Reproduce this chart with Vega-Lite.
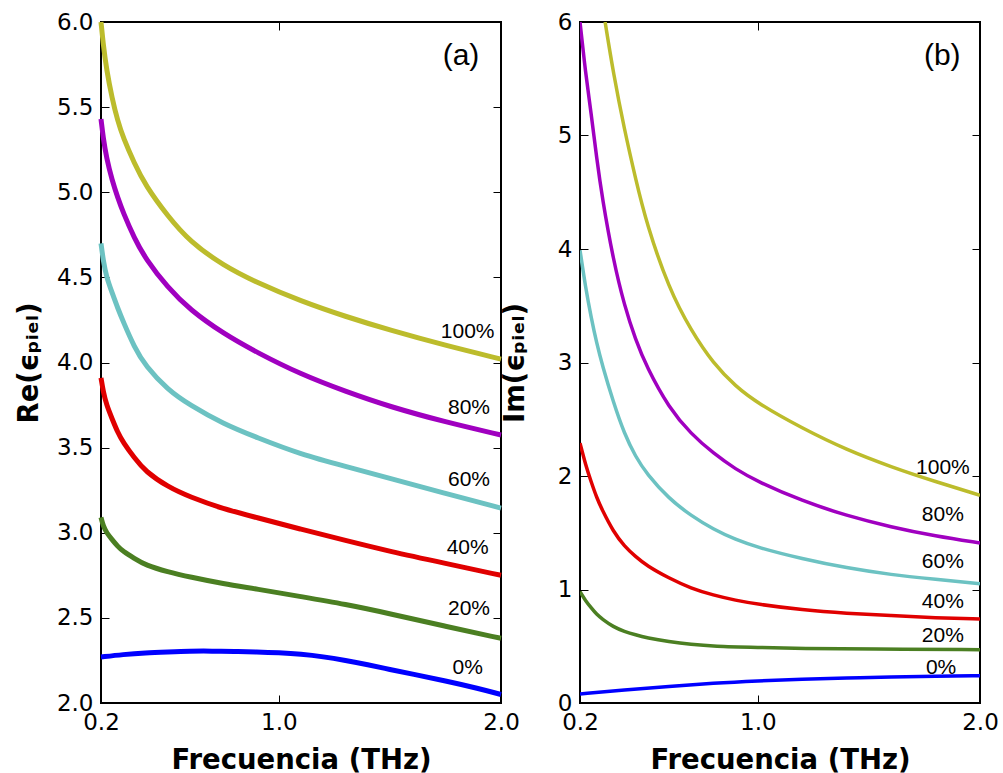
{
  "$schema": "https://vega.github.io/schema/vega-lite/v6.json",
  "padding": {"left": 14, "top": 10, "right": 5, "bottom": 5},
  "background": "white",
  "config": {
    "view": {"stroke": "#000", "strokeWidth": 2},
    "axis": {"grid": false, "domain": false, "tickColor": "#000", "tickSize": -8, "tickWidth": 1, "labelFont": "DejaVu Sans", "labelFontSize": 23, "labelColor": "#000", "labelPadding": 16, "labelFlush": false, "labelOverlap": false, "titleFont": "DejaVu Sans", "titleFontSize": 27.5, "titleFontWeight": "bold", "titleColor": "#000"},
    "text": {"font": "Liberation Sans", "fontSize": 21, "color": "#000"}
  },
  "datasets": {
    "re": [
      {"s": "100%", "f": 0.2, "v": 6.0}, {"s": "100%", "f": 0.21, "v": 5.87}, {"s": "100%", "f": 0.225, "v": 5.72}, {"s": "100%", "f": 0.25, "v": 5.55}, {"s": "100%", "f": 0.275, "v": 5.42}, {"s": "100%", "f": 0.3, "v": 5.32}, {"s": "100%", "f": 0.35, "v": 5.17}, {"s": "100%", "f": 0.4, "v": 5.04}, {"s": "100%", "f": 0.5, "v": 4.86}, {"s": "100%", "f": 0.6, "v": 4.71}, {"s": "100%", "f": 0.75, "v": 4.57}, {"s": "100%", "f": 0.9, "v": 4.47}, {"s": "100%", "f": 1.1, "v": 4.36}, {"s": "100%", "f": 1.3, "v": 4.27}, {"s": "100%", "f": 1.5, "v": 4.19}, {"s": "100%", "f": 1.75, "v": 4.10}, {"s": "100%", "f": 2.0, "v": 4.02},
      {"s": "80%", "f": 0.2, "v": 5.43}, {"s": "80%", "f": 0.21, "v": 5.32}, {"s": "80%", "f": 0.225, "v": 5.2}, {"s": "80%", "f": 0.25, "v": 5.07}, {"s": "80%", "f": 0.275, "v": 4.97}, {"s": "80%", "f": 0.3, "v": 4.88}, {"s": "80%", "f": 0.35, "v": 4.73}, {"s": "80%", "f": 0.4, "v": 4.61}, {"s": "80%", "f": 0.5, "v": 4.44}, {"s": "80%", "f": 0.6, "v": 4.31}, {"s": "80%", "f": 0.75, "v": 4.17}, {"s": "80%", "f": 0.9, "v": 4.06}, {"s": "80%", "f": 1.1, "v": 3.93}, {"s": "80%", "f": 1.3, "v": 3.83}, {"s": "80%", "f": 1.5, "v": 3.74}, {"s": "80%", "f": 1.75, "v": 3.65}, {"s": "80%", "f": 2.0, "v": 3.574},
      {"s": "60%", "f": 0.2, "v": 4.70}, {"s": "60%", "f": 0.21, "v": 4.60}, {"s": "60%", "f": 0.225, "v": 4.50}, {"s": "60%", "f": 0.25, "v": 4.41}, {"s": "60%", "f": 0.275, "v": 4.32}, {"s": "60%", "f": 0.3, "v": 4.24}, {"s": "60%", "f": 0.35, "v": 4.09}, {"s": "60%", "f": 0.4, "v": 3.98}, {"s": "60%", "f": 0.5, "v": 3.84}, {"s": "60%", "f": 0.6, "v": 3.75}, {"s": "60%", "f": 0.75, "v": 3.64}, {"s": "60%", "f": 0.9, "v": 3.56}, {"s": "60%", "f": 1.1, "v": 3.46}, {"s": "60%", "f": 1.3, "v": 3.39}, {"s": "60%", "f": 1.5, "v": 3.32}, {"s": "60%", "f": 1.75, "v": 3.23}, {"s": "60%", "f": 2.0, "v": 3.145},
      {"s": "40%", "f": 0.2, "v": 3.91}, {"s": "40%", "f": 0.21, "v": 3.83}, {"s": "40%", "f": 0.225, "v": 3.75}, {"s": "40%", "f": 0.25, "v": 3.67}, {"s": "40%", "f": 0.275, "v": 3.59}, {"s": "40%", "f": 0.3, "v": 3.53}, {"s": "40%", "f": 0.35, "v": 3.44}, {"s": "40%", "f": 0.4, "v": 3.36}, {"s": "40%", "f": 0.5, "v": 3.27}, {"s": "40%", "f": 0.6, "v": 3.21}, {"s": "40%", "f": 0.75, "v": 3.14}, {"s": "40%", "f": 0.9, "v": 3.09}, {"s": "40%", "f": 1.1, "v": 3.02}, {"s": "40%", "f": 1.3, "v": 2.955}, {"s": "40%", "f": 1.5, "v": 2.89}, {"s": "40%", "f": 1.75, "v": 2.82}, {"s": "40%", "f": 2.0, "v": 2.75},
      {"s": "20%", "f": 0.2, "v": 3.09}, {"s": "20%", "f": 0.21, "v": 3.04}, {"s": "20%", "f": 0.225, "v": 3.0}, {"s": "20%", "f": 0.25, "v": 2.96}, {"s": "20%", "f": 0.275, "v": 2.92}, {"s": "20%", "f": 0.3, "v": 2.89}, {"s": "20%", "f": 0.35, "v": 2.85}, {"s": "20%", "f": 0.4, "v": 2.81}, {"s": "20%", "f": 0.5, "v": 2.77}, {"s": "20%", "f": 0.6, "v": 2.74}, {"s": "20%", "f": 0.75, "v": 2.70}, {"s": "20%", "f": 0.9, "v": 2.67}, {"s": "20%", "f": 1.1, "v": 2.625}, {"s": "20%", "f": 1.3, "v": 2.58}, {"s": "20%", "f": 1.5, "v": 2.525}, {"s": "20%", "f": 1.75, "v": 2.45}, {"s": "20%", "f": 2.0, "v": 2.38},
      {"s": "0%", "f": 0.2, "v": 2.27}, {"s": "0%", "f": 0.3, "v": 2.285}, {"s": "0%", "f": 0.4, "v": 2.295}, {"s": "0%", "f": 0.5, "v": 2.30}, {"s": "0%", "f": 0.6, "v": 2.305}, {"s": "0%", "f": 0.7, "v": 2.305}, {"s": "0%", "f": 0.8, "v": 2.303}, {"s": "0%", "f": 0.9, "v": 2.30}, {"s": "0%", "f": 1.0, "v": 2.295}, {"s": "0%", "f": 1.1, "v": 2.287}, {"s": "0%", "f": 1.2, "v": 2.272}, {"s": "0%", "f": 1.3, "v": 2.25}, {"s": "0%", "f": 1.4, "v": 2.225}, {"s": "0%", "f": 1.5, "v": 2.197}, {"s": "0%", "f": 1.6, "v": 2.17}, {"s": "0%", "f": 1.75, "v": 2.13}, {"s": "0%", "f": 1.9, "v": 2.085}, {"s": "0%", "f": 2.0, "v": 2.05}
    ],
    "im": [
      {"s": "100%", "f": 0.313, "v": 6.0}, {"s": "100%", "f": 0.35, "v": 5.55}, {"s": "100%", "f": 0.4, "v": 5.05}, {"s": "100%", "f": 0.45, "v": 4.62}, {"s": "100%", "f": 0.5, "v": 4.22}, {"s": "100%", "f": 0.6, "v": 3.65}, {"s": "100%", "f": 0.7, "v": 3.28}, {"s": "100%", "f": 0.8, "v": 2.99}, {"s": "100%", "f": 0.9, "v": 2.79}, {"s": "100%", "f": 1.0, "v": 2.64}, {"s": "100%", "f": 1.2, "v": 2.42}, {"s": "100%", "f": 1.4, "v": 2.23}, {"s": "100%", "f": 1.6, "v": 2.08}, {"s": "100%", "f": 1.8, "v": 1.95}, {"s": "100%", "f": 2.0, "v": 1.83},
      {"s": "80%", "f": 0.2, "v": 6.0}, {"s": "80%", "f": 0.225, "v": 5.55}, {"s": "80%", "f": 0.25, "v": 5.2}, {"s": "80%", "f": 0.275, "v": 4.8}, {"s": "80%", "f": 0.3, "v": 4.45}, {"s": "80%", "f": 0.35, "v": 3.9}, {"s": "80%", "f": 0.4, "v": 3.5}, {"s": "80%", "f": 0.45, "v": 3.2}, {"s": "80%", "f": 0.5, "v": 2.96}, {"s": "80%", "f": 0.6, "v": 2.6}, {"s": "80%", "f": 0.7, "v": 2.37}, {"s": "80%", "f": 0.8, "v": 2.2}, {"s": "80%", "f": 0.9, "v": 2.06}, {"s": "80%", "f": 1.0, "v": 1.95}, {"s": "80%", "f": 1.2, "v": 1.78}, {"s": "80%", "f": 1.4, "v": 1.65}, {"s": "80%", "f": 1.6, "v": 1.55}, {"s": "80%", "f": 1.8, "v": 1.47}, {"s": "80%", "f": 2.0, "v": 1.41},
      {"s": "60%", "f": 0.2, "v": 3.99}, {"s": "60%", "f": 0.225, "v": 3.66}, {"s": "60%", "f": 0.25, "v": 3.40}, {"s": "60%", "f": 0.275, "v": 3.17}, {"s": "60%", "f": 0.3, "v": 2.98}, {"s": "60%", "f": 0.35, "v": 2.65}, {"s": "60%", "f": 0.4, "v": 2.37}, {"s": "60%", "f": 0.45, "v": 2.17}, {"s": "60%", "f": 0.5, "v": 2.02}, {"s": "60%", "f": 0.6, "v": 1.80}, {"s": "60%", "f": 0.7, "v": 1.65}, {"s": "60%", "f": 0.8, "v": 1.53}, {"s": "60%", "f": 0.9, "v": 1.44}, {"s": "60%", "f": 1.0, "v": 1.37}, {"s": "60%", "f": 1.2, "v": 1.27}, {"s": "60%", "f": 1.4, "v": 1.19}, {"s": "60%", "f": 1.6, "v": 1.13}, {"s": "60%", "f": 1.8, "v": 1.09}, {"s": "60%", "f": 2.0, "v": 1.05},
      {"s": "40%", "f": 0.2, "v": 2.29}, {"s": "40%", "f": 0.225, "v": 2.10}, {"s": "40%", "f": 0.25, "v": 1.95}, {"s": "40%", "f": 0.275, "v": 1.81}, {"s": "40%", "f": 0.3, "v": 1.70}, {"s": "40%", "f": 0.35, "v": 1.51}, {"s": "40%", "f": 0.4, "v": 1.38}, {"s": "40%", "f": 0.45, "v": 1.29}, {"s": "40%", "f": 0.5, "v": 1.21}, {"s": "40%", "f": 0.6, "v": 1.10}, {"s": "40%", "f": 0.7, "v": 1.01}, {"s": "40%", "f": 0.8, "v": 0.95}, {"s": "40%", "f": 0.9, "v": 0.905}, {"s": "40%", "f": 1.0, "v": 0.87}, {"s": "40%", "f": 1.2, "v": 0.82}, {"s": "40%", "f": 1.4, "v": 0.79}, {"s": "40%", "f": 1.6, "v": 0.77}, {"s": "40%", "f": 1.8, "v": 0.75}, {"s": "40%", "f": 2.0, "v": 0.74},
      {"s": "20%", "f": 0.2, "v": 0.98}, {"s": "20%", "f": 0.225, "v": 0.90}, {"s": "20%", "f": 0.25, "v": 0.84}, {"s": "20%", "f": 0.275, "v": 0.78}, {"s": "20%", "f": 0.3, "v": 0.74}, {"s": "20%", "f": 0.35, "v": 0.67}, {"s": "20%", "f": 0.4, "v": 0.63}, {"s": "20%", "f": 0.45, "v": 0.60}, {"s": "20%", "f": 0.5, "v": 0.575}, {"s": "20%", "f": 0.6, "v": 0.54}, {"s": "20%", "f": 0.7, "v": 0.515}, {"s": "20%", "f": 0.8, "v": 0.50}, {"s": "20%", "f": 1.0, "v": 0.49}, {"s": "20%", "f": 1.2, "v": 0.48}, {"s": "20%", "f": 1.5, "v": 0.475}, {"s": "20%", "f": 2.0, "v": 0.47},
      {"s": "0%", "f": 0.2, "v": 0.08}, {"s": "0%", "f": 0.4, "v": 0.115}, {"s": "0%", "f": 0.6, "v": 0.145}, {"s": "0%", "f": 0.8, "v": 0.175}, {"s": "0%", "f": 1.0, "v": 0.195}, {"s": "0%", "f": 1.2, "v": 0.21}, {"s": "0%", "f": 1.4, "v": 0.22}, {"s": "0%", "f": 1.6, "v": 0.23}, {"s": "0%", "f": 1.8, "v": 0.235}, {"s": "0%", "f": 2.0, "v": 0.24}
    ],
    "reLabels": [
      {"s": "100%", "f": 1.85, "v": 4.18}, {"s": "80%", "f": 1.856, "v": 3.73}, {"s": "60%", "f": 1.856, "v": 3.31}, {"s": "40%", "f": 1.85, "v": 2.91}, {"s": "20%", "f": 1.856, "v": 2.55}, {"s": "0%", "f": 1.85, "v": 2.205}
    ],
    "imLabels": [
      {"s": "100%", "f": 1.833, "v": 2.07}, {"s": "80%", "f": 1.833, "v": 1.66}, {"s": "60%", "f": 1.833, "v": 1.24}, {"s": "40%", "f": 1.833, "v": 0.89}, {"s": "20%", "f": 1.833, "v": 0.59}, {"s": "0%", "f": 1.825, "v": 0.31}
    ],
    "reLetter": [{"t": "(a)", "f": 1.82, "v": 5.80}],
    "imLetter": [{"t": "(b)", "f": 1.83, "v": 5.70}]
  },
  "spacing": -21,
  "hconcat": [
    {
      "width": 400,
      "height": 681,
      "layer": [
        {
          "data": {"name": "re"},
          "mark": {"type": "line", "strokeWidth": 5, "interpolate": "basis"},
          "encoding": {
            "x": {"field": "f", "type": "quantitative", "scale": {"domain": [0.2, 2.0], "nice": false, "zero": false}, "axis": {"values": [0.2, 1.0, 2.0], "format": ".1f", "title": "Frecuencia (THz)", "titlePadding": 12}},
            "y": {"field": "v", "type": "quantitative", "scale": {"domain": [2, 6], "nice": false, "zero": false}, "axis": {"values": [2, 2.5, 3, 3.5, 4, 4.5, 5, 5.5, 6], "format": ".1f", "title": "Re(ϵₚᵢₑₗ)", "titlePadding": 13}},
            "color": {"field": "s", "type": "nominal", "scale": {"domain": ["100%", "80%", "60%", "40%", "20%", "0%"], "range": ["#bcbc2c", "#a000c0", "#6cc2c2", "#e00000", "#4b7f22", "#0000ff"]}, "legend": null}
          }
        },
        {
          "data": {"name": "reLabels"},
          "mark": {"type": "text"},
          "encoding": {
            "x": {"field": "f", "type": "quantitative", "scale": {"domain": [0.2, 2.0], "nice": false, "zero": false}, "axis": {"orient": "top", "values": [0.2, 1.0, 2.0], "labels": false, "title": null}},
            "y": {"field": "v", "type": "quantitative", "scale": {"domain": [2, 6], "nice": false, "zero": false}, "axis": {"orient": "right", "values": [2, 2.5, 3, 3.5, 4, 4.5, 5, 5.5, 6], "labels": false, "title": null}},
            "text": {"field": "s"}
          }
        },
        {
          "data": {"name": "reLetter"},
          "mark": {"type": "text", "fontSize": 30},
          "encoding": {
            "x": {"field": "f", "type": "quantitative", "scale": {"domain": [0.2, 2.0], "nice": false, "zero": false}, "axis": null},
            "y": {"field": "v", "type": "quantitative", "scale": {"domain": [2, 6], "nice": false, "zero": false}, "axis": null},
            "text": {"field": "t"}
          }
        }
      ],
      "resolve": {"scale": {"x": "independent", "y": "independent"}}
    },
    {
      "width": 400,
      "height": 681,
      "layer": [
        {
          "data": {"name": "im"},
          "mark": {"type": "line", "strokeWidth": 3.5, "interpolate": "basis", "clip": true},
          "encoding": {
            "x": {"field": "f", "type": "quantitative", "scale": {"domain": [0.2, 2.0], "nice": false, "zero": false}, "axis": {"values": [0.2, 1.0, 2.0], "format": ".1f", "title": "Frecuencia (THz)", "titlePadding": 12}},
            "y": {"field": "v", "type": "quantitative", "scale": {"domain": [0, 6], "nice": false, "zero": false}, "axis": {"values": [0, 1, 2, 3, 4, 5, 6], "format": "d", "title": "Im(ϵₚᵢₑₗ)", "titlePadding": 28}},
            "color": {"field": "s", "type": "nominal", "scale": {"domain": ["100%", "80%", "60%", "40%", "20%", "0%"], "range": ["#bcbc2c", "#a000c0", "#6cc2c2", "#e00000", "#4b7f22", "#0000ff"]}, "legend": null}
          }
        },
        {
          "data": {"name": "imLabels"},
          "mark": {"type": "text"},
          "encoding": {
            "x": {"field": "f", "type": "quantitative", "scale": {"domain": [0.2, 2.0], "nice": false, "zero": false}, "axis": {"orient": "top", "values": [0.2, 1.0, 2.0], "labels": false, "title": null}},
            "y": {"field": "v", "type": "quantitative", "scale": {"domain": [0, 6], "nice": false, "zero": false}, "axis": {"orient": "right", "values": [0, 1, 2, 3, 4, 5, 6], "labels": false, "title": null}},
            "text": {"field": "s"}
          }
        },
        {
          "data": {"name": "imLetter"},
          "mark": {"type": "text", "fontSize": 30},
          "encoding": {
            "x": {"field": "f", "type": "quantitative", "scale": {"domain": [0.2, 2.0], "nice": false, "zero": false}, "axis": null},
            "y": {"field": "v", "type": "quantitative", "scale": {"domain": [0, 6], "nice": false, "zero": false}, "axis": null},
            "text": {"field": "t"}
          }
        }
      ],
      "resolve": {"scale": {"x": "independent", "y": "independent"}}
    }
  ]
}
